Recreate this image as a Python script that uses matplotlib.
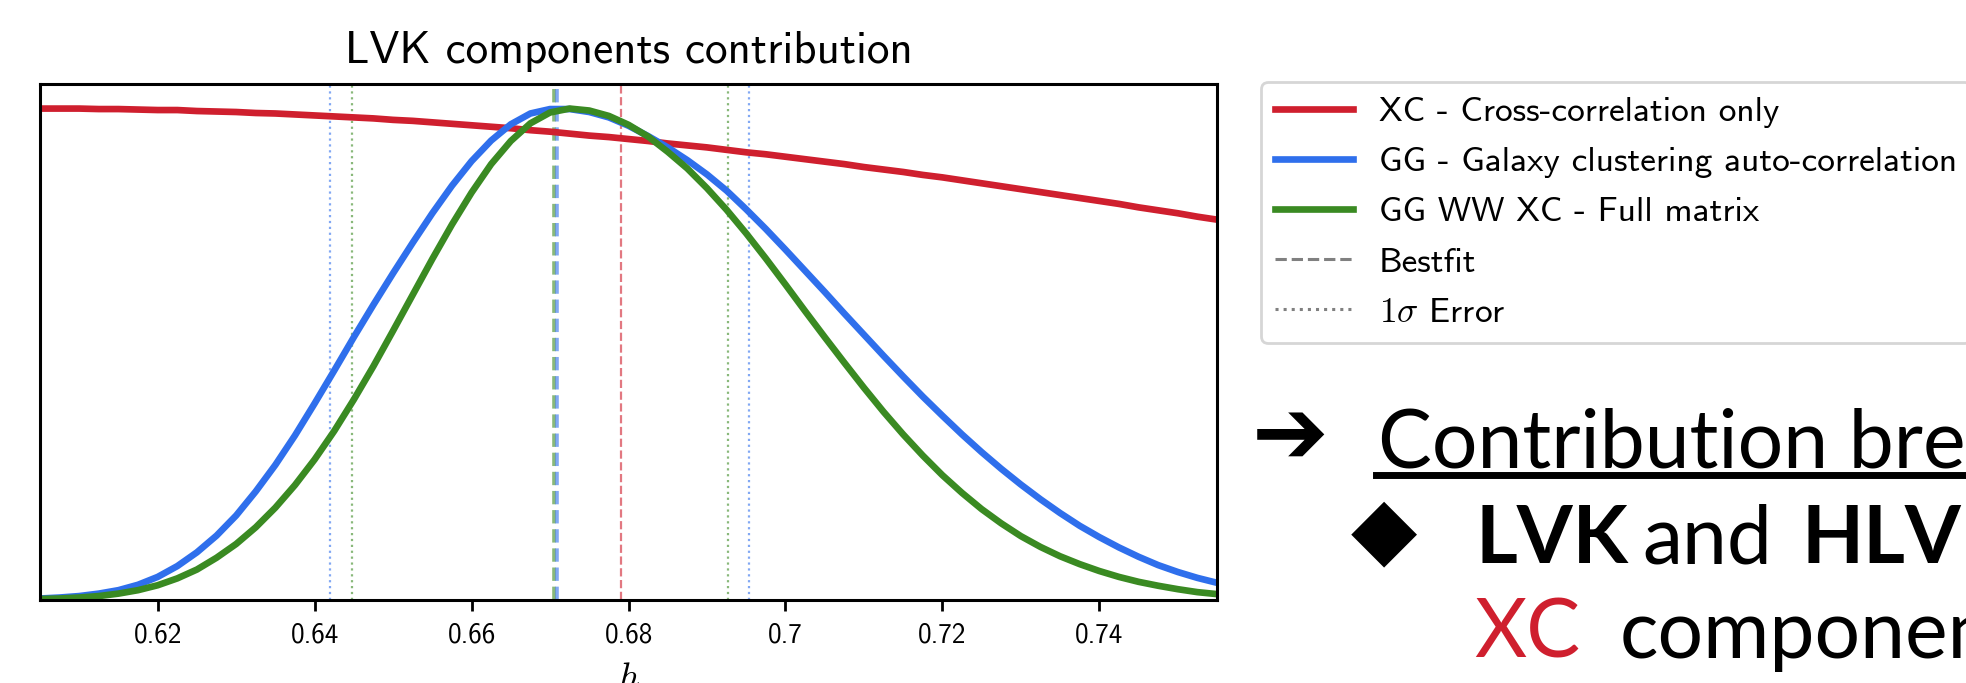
import matplotlib
matplotlib.use("Agg")
import matplotlib.pyplot as plt
from matplotlib.lines import Line2D

# posterior curves (normalised to peak = 1)
h_grid = [0.6050, 0.6075, 0.6100, 0.6125, 0.6150, 0.6175, 0.6200, 0.6225, 0.6250, 0.6275,
          0.6300, 0.6325, 0.6350, 0.6375, 0.6400, 0.6425, 0.6450, 0.6475, 0.6500, 0.6525,
          0.6550, 0.6575, 0.6600, 0.6625, 0.6650, 0.6675, 0.6700, 0.6725, 0.6750, 0.6775,
          0.6800, 0.6825, 0.6850, 0.6875, 0.6900, 0.6925, 0.6950, 0.6975, 0.7000, 0.7025,
          0.7050, 0.7075, 0.7100, 0.7125, 0.7150, 0.7175, 0.7200, 0.7225, 0.7250, 0.7275,
          0.7300, 0.7325, 0.7350, 0.7375, 0.7400, 0.7425, 0.7450, 0.7475, 0.7500, 0.7525,
          0.7550]
xc_only = [1.000, 1.000, 1.000, 0.999, 0.999, 0.998, 0.997, 0.997, 0.995, 0.994,
           0.993, 0.991, 0.990, 0.988, 0.986, 0.984, 0.982, 0.980, 0.977, 0.975,
           0.972, 0.969, 0.966, 0.963, 0.960, 0.956, 0.953, 0.949, 0.945, 0.942,
           0.938, 0.934, 0.929, 0.925, 0.921, 0.916, 0.911, 0.907, 0.902, 0.897,
           0.892, 0.887, 0.881, 0.876, 0.871, 0.865, 0.860, 0.854, 0.848, 0.842,
           0.836, 0.830, 0.824, 0.818, 0.812, 0.806, 0.799, 0.793, 0.787, 0.780,
           0.774]
gg_only = [0.003, 0.005, 0.008, 0.013, 0.020, 0.031, 0.047, 0.069, 0.097, 0.131,
           0.172, 0.221, 0.275, 0.335, 0.400, 0.467, 0.535, 0.601, 0.665, 0.727,
           0.787, 0.843, 0.893, 0.935, 0.968, 0.990, 0.999, 0.999, 0.993, 0.982,
           0.965, 0.944, 0.921, 0.895, 0.866, 0.833, 0.795, 0.755, 0.713, 0.670,
           0.627, 0.583, 0.540, 0.497, 0.455, 0.414, 0.375, 0.337, 0.301, 0.267,
           0.235, 0.205, 0.177, 0.151, 0.128, 0.107, 0.088, 0.071, 0.057, 0.045,
           0.035]
full_matrix = [0.002, 0.003, 0.005, 0.008, 0.013, 0.020, 0.030, 0.044, 0.062, 0.086,
               0.114, 0.148, 0.188, 0.234, 0.286, 0.344, 0.408, 0.476, 0.548, 0.621,
               0.694, 0.764, 0.829, 0.887, 0.934, 0.970, 0.992, 1.000, 0.996, 0.985,
               0.967, 0.943, 0.912, 0.878, 0.838, 0.794, 0.746, 0.695, 0.642, 0.588,
               0.535, 0.483, 0.432, 0.383, 0.337, 0.294, 0.254, 0.218, 0.185, 0.156,
               0.130, 0.108, 0.089, 0.073, 0.059, 0.047, 0.037, 0.029, 0.022, 0.016,
               0.012]

bestfit_xc = 0.679
bestfit_gg = 0.6709
bestfit_full = 0.6705
err_gg = [0.6420, 0.6954]
err_full = [0.6447, 0.6927]

tick_vals = [0.62, 0.64, 0.66, 0.68, 0.70, 0.72, 0.74]
tick_labels = ["0.62", "0.64", "0.66", "0.68", "0.7", "0.72", "0.74"]

labels = ["XC - Cross-correlation only",
          "GG - Galaxy clustering auto-correlation",
          "GG WW XC - Full matrix",
          "Bestfit",
          r"$1\sigma$ Error"]

RED = "#cf1f2e"
BLUE = "#2f6fec"
GREEN = "#3a8a22"

plt.rcParams["mathtext.fontset"] = "cm"
W, H = 1966, 683
fig = plt.figure(figsize=(W / 100, H / 100), dpi=100)
ax = fig.add_axes([40 / W, 1 - 600 / H, (1217 - 40) / W, (600 - 84) / H])

# bestfit and 1 sigma lines
ax.axvline(bestfit_xc, color=RED, ls="--", lw=1.6, alpha=0.6)
ax.axvline(bestfit_full, color=GREEN, ls="--", lw=2.6, alpha=0.6)
ax.axvline(bestfit_gg, color=BLUE, ls="--", lw=2.6, alpha=0.6)
for e in err_gg:
    ax.axvline(e, color=BLUE, ls=":", lw=1.6, alpha=0.6)
for e in err_full:
    ax.axvline(e, color=GREEN, ls=":", lw=1.6, alpha=0.6)

ax.plot(h_grid, xc_only, color=RED, lw=4.8)
ax.plot(h_grid, gg_only, color=BLUE, lw=4.8)
ax.plot(h_grid, full_matrix, color=GREEN, lw=4.8)

ax.set_xlim(0.605, 0.755)
ax.set_ylim(0, 1.05)
ax.set_yticks([])
ax.set_xticks(tick_vals)
ax.set_xticklabels(tick_labels, fontfamily="cmss10", fontsize=19.5)
ax.tick_params(axis="x", length=8, width=2, pad=8)
for s in ax.spines.values():
    s.set_linewidth(2.2)
ax.set_title("LVK components contribution", fontfamily="cmss10", fontsize=32.5, pad=15)
ax.set_xlabel("$h$", fontsize=26, labelpad=10)

handles = [Line2D([], [], color=RED, lw=4.8),
           Line2D([], [], color=BLUE, lw=4.8),
           Line2D([], [], color=GREEN, lw=4.8),
           Line2D([], [], color="gray", ls="--", lw=2.2),
           Line2D([], [], color="gray", ls=":", lw=2.2)]
leg = ax.legend(handles, labels, loc="upper left",
                bbox_to_anchor=(1261 / W, 1 - 82 / H), bbox_transform=fig.transFigure,
                borderaxespad=0, prop={"family": "cmss10", "size": 25.5},
                handlelength=2.2, handletextpad=0.73, labelspacing=0.52,
                borderpad=0.4)
leg.get_frame().set_linewidth(2)

# slide text on the right
big = 58
fig.text(1252 / W, 1 - 437 / H, "\u2794", fontsize=66, fontfamily="DejaVu Sans",
         va="center", ha="left")
fig.text(1378 / W, 1 - 467 / H, "Contribution breakdown", fontsize=big,
         fontfamily="Lato", va="baseline")
fig.add_artist(Line2D([1376 / W, 1.0], [1 - 475 / H, 1 - 475 / H], color="black",
                      lw=5, transform=fig.transFigure))
fig.text(1351 / W, 1 - 533 / H, "\u25c6", fontsize=62, fontfamily="DejaVu Sans",
         va="center", ha="left")
fig.text(1476 / W, 1 - 563 / H, "LVK", fontsize=big, fontfamily="Lato",
         fontweight="bold", va="baseline")
fig.text(1642 / W, 1 - 563 / H, "and", fontsize=big, fontfamily="Lato",
         va="baseline")
fig.text(1801 / W, 1 - 563 / H, "HLVKI", fontsize=big, fontfamily="Lato",
         fontweight="bold", va="baseline")
fig.text(1474 / W, 1 - 658 / H, "XC", fontsize=big, fontfamily="Lato",
         color=RED, va="baseline")
fig.text(1620 / W, 1 - 658 / H, "components", fontsize=big, fontfamily="Lato",
         va="baseline")

fig.savefig("out.png", dpi=100)
